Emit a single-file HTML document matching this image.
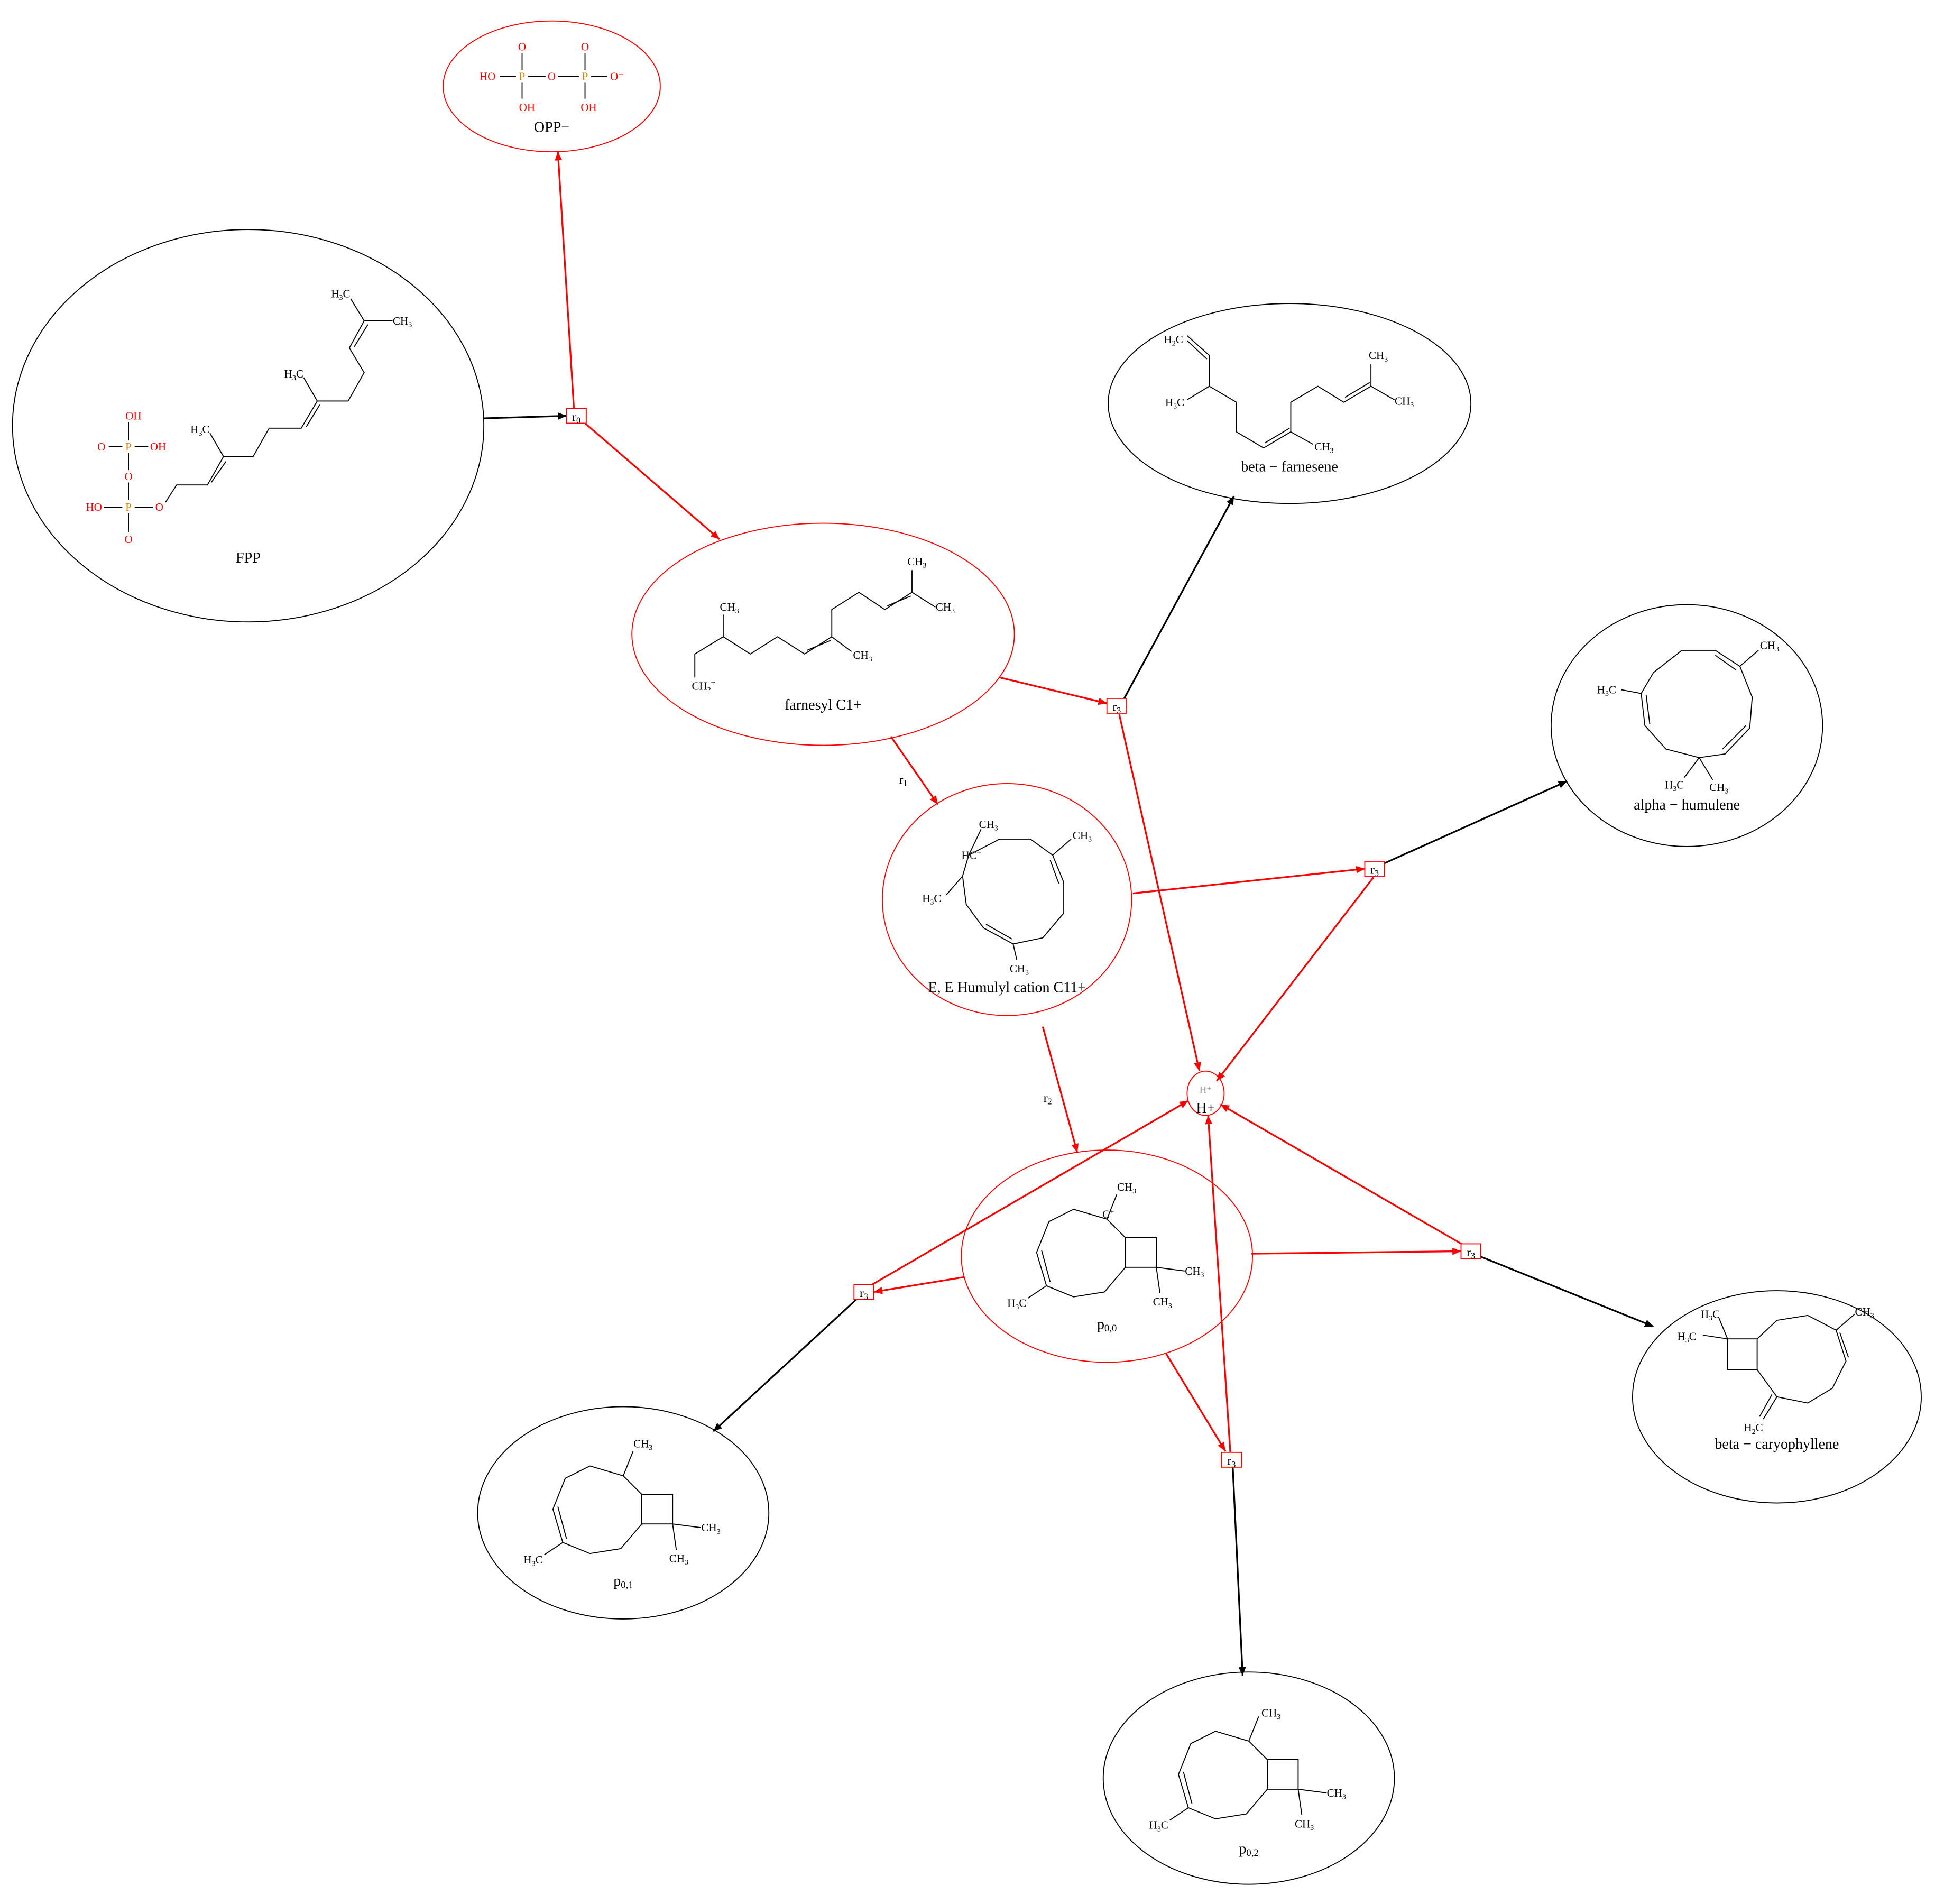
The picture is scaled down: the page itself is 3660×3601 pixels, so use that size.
<!DOCTYPE html>
<html><head><meta charset="utf-8"><style>html,body{margin:0;padding:0;background:#fff}svg{display:block}</style></head>
<body>
<svg xmlns="http://www.w3.org/2000/svg" width="3660" height="3601" viewBox="0 0 1568 1543" font-family="Liberation Serif, serif">
<defs>
<marker id="ab" markerWidth="8" markerHeight="8" refX="7" refY="4" orient="auto" markerUnits="userSpaceOnUse"><path d="M0,1 L7,4 L0,7 Z" fill="#000"/></marker>
<marker id="ar" markerWidth="8" markerHeight="8" refX="7" refY="4" orient="auto" markerUnits="userSpaceOnUse"><path d="M0,1 L7,4 L0,7 Z" fill="#f00"/></marker>
<g id="bic" fill="none" stroke="#000" stroke-width="0.8">
<path d="M912,1003 L937,1003 L937,1027 L912,1027 Z"/>
<path d="M912,1003 L897,988 L870,980 L850,990 L840,1015 L848,1042 L870,1051 L895,1047 L912,1027"/>
<path d="M844,1013 L851,1039"/>
<path d="M897,988 L905,968 M937,1027 L960,1030 M937,1027 L940,1048 M848,1042 L833,1052"/>
</g>
</defs>
<g fill="none" stroke-width="0.8">
<ellipse cx="447" cy="70" rx="88" ry="53" stroke="#f00"/>
<ellipse cx="201" cy="345" rx="191" ry="159" stroke="#000"/>
<ellipse cx="1045" cy="327" rx="147" ry="81" stroke="#000"/>
<ellipse cx="667" cy="514" rx="155" ry="90" stroke="#f00"/>
<ellipse cx="1367" cy="588" rx="110" ry="98" stroke="#000"/>
<ellipse cx="816" cy="729" rx="101" ry="94" stroke="#f00"/>
<ellipse cx="977" cy="886" rx="15" ry="18" stroke="#f00"/>
<ellipse cx="897" cy="1018" rx="118" ry="86" stroke="#f00"/>
<ellipse cx="1440" cy="1132" rx="117" ry="86" stroke="#000"/>
<ellipse cx="505" cy="1226" rx="118" ry="86" stroke="#000"/>
<ellipse cx="1012" cy="1441" rx="118" ry="86" stroke="#000"/>
</g>
<g stroke-width="1.4" fill="none">
<path d="M392,339 L459,337" stroke="#000" marker-end="url(#ab)"/>
<path d="M465,331 L452,123" stroke="#f00" marker-end="url(#ar)"/>
<path d="M474,343 L583,437" stroke="#f00" marker-end="url(#ar)"/>
<path d="M810,549 L897,570" stroke="#f00" marker-end="url(#ar)"/>
<path d="M911,566 L1000,402" stroke="#000" marker-end="url(#ab)"/>
<path d="M907,579 L972,868" stroke="#f00" marker-end="url(#ar)"/>
<path d="M722,597 L760,652" stroke="#f00" marker-end="url(#ar)"/>
<path d="M918,724 L1106,704" stroke="#f00" marker-end="url(#ar)"/>
<path d="M1121,700 L1270,633" stroke="#000" marker-end="url(#ab)"/>
<path d="M1113,711 L986,876" stroke="#f00" marker-end="url(#ar)"/>
<path d="M845,832 L873,934" stroke="#f00" marker-end="url(#ar)"/>
<path d="M1014,1016 L1184,1014" stroke="#f00" marker-end="url(#ar)"/>
<path d="M1199,1018 L1340,1075" stroke="#000" marker-end="url(#ab)"/>
<path d="M1186,1009 L989,895" stroke="#f00" marker-end="url(#ar)"/>
<path d="M781,1035 L708,1047" stroke="#f00" marker-end="url(#ar)"/>
<path d="M705,1042 L963,892" stroke="#f00" marker-end="url(#ar)"/>
<path d="M694,1053 L578,1160" stroke="#000" marker-end="url(#ab)"/>
<path d="M945,1097 L993,1176" stroke="#f00" marker-end="url(#ar)"/>
<path d="M997,1177 L979,904" stroke="#f00" marker-end="url(#ar)"/>
<path d="M999,1189 L1007,1358" stroke="#000" marker-end="url(#ab)"/>
</g>
<g fill="#fff" stroke="#f00" stroke-width="0.8">
<rect x="459" y="331" width="16" height="12"/>
<rect x="897" y="566" width="16" height="12"/>
<rect x="1106" y="698" width="16" height="12"/>
<rect x="1184" y="1008" width="16" height="12"/>
<rect x="692" y="1041" width="16" height="12"/>
<rect x="990" y="1177" width="16" height="12"/>
</g>
<g font-size="10" text-anchor="middle">
<text x="467" y="341">r<tspan font-size="7" dy="2">0</tspan></text>
<text x="905" y="576">r<tspan font-size="7" dy="2">3</tspan></text>
<text x="1114" y="708">r<tspan font-size="7" dy="2">3</tspan></text>
<text x="1192" y="1018">r<tspan font-size="7" dy="2">3</tspan></text>
<text x="700" y="1051">r<tspan font-size="7" dy="2">3</tspan></text>
<text x="998" y="1187">r<tspan font-size="7" dy="2">3</tspan></text>
<text x="732" y="635">r<tspan font-size="7" dy="2">1</tspan></text>
<text x="849" y="893">r<tspan font-size="7" dy="2">2</tspan></text>
</g>
<g font-size="12" text-anchor="middle">
<text x="447" y="107">OPP−</text>
<text x="201" y="456">FPP</text>
<text x="667" y="575">farnesyl C1+</text>
<text x="1045" y="382">beta − farnesene</text>
<text x="1367" y="656">alpha − humulene</text>
<text x="816" y="804">E, E Humulyl cation C11+</text>
<text x="977" y="902">H+</text>
<text x="977" y="886" font-size="8" fill="#888">H⁺</text>
<text x="897" y="1077">p<tspan font-size="8" dy="2">0,0</tspan></text>
<text x="1440" y="1174">beta − caryophyllene</text>
<text x="505" y="1285">p<tspan font-size="8" dy="2">0,1</tspan></text>
<text x="1012" y="1502">p<tspan font-size="8" dy="2">0,2</tspan></text>
</g>
<!-- OPP -->
<g stroke-width="0.8" fill="none" stroke="#000">
<path d="M405,62 L418,62 M428,62 L442,62 M452,62 L469,62 M479,62 L492,62 M423,57 L423,43 M474,57 L474,43 M423,67 L423,80 M474,67 L474,80"/>
</g>
<g font-size="9" text-anchor="middle" fill="#f00">
<text x="395" y="65">HO</text><text x="423" y="65" fill="#e08000">P</text><text x="447" y="65">O</text><text x="474" y="65" fill="#e08000">P</text><text x="500" y="65">O⁻</text>
<text x="423" y="41">O</text><text x="474" y="41">O</text><text x="427" y="90">OH</text><text x="477" y="90">OH</text>
</g>
<!-- FPP -->
<g stroke-width="0.8" fill="none" stroke="#000">
<path d="M104,342 L104,357 M88,362 L99,362 M109,362 L120,362 M104,367 L104,381 M104,391 L104,405 M84,411 L99,411 M104,416 L104,431 M109,411 L124,411"/>
<path d="M134,407 L143,393 L168,393 L181,370 L205,370 L218,347 L244,347 L257,325 L282,325 L295,302 L283,282 L295,260 L318,260 M181,370 L170,351 M257,325 L246,306 M295,260 L284,242"/>
<path d="M171,391 L183,374 M248,346 L259,328 M287,281 L298,263"/>
</g>
<g font-size="9" text-anchor="middle" fill="#f00">
<text x="108" y="340">OH</text><text x="82" y="365">O</text><text x="104" y="365" fill="#e08000">P</text><text x="128" y="365">OH</text>
<text x="104" y="389">O</text><text x="76" y="414">HO</text><text x="104" y="414" fill="#e08000">P</text><text x="104" y="440">O</text><text x="129" y="414">O</text>
</g>
<g font-size="9" text-anchor="middle">
<text x="162" y="351">H<tspan font-size="6" dy="2">3</tspan><tspan dy="-2">C</tspan></text>
<text x="238" y="306">H<tspan font-size="6" dy="2">3</tspan><tspan dy="-2">C</tspan></text>
<text x="276" y="241">H<tspan font-size="6" dy="2">3</tspan><tspan dy="-2">C</tspan></text>
<text x="326" y="263">CH<tspan font-size="6" dy="2">3</tspan></text>
</g>
<!-- farnesyl -->
<g stroke-width="0.8" fill="none" stroke="#000">
<path d="M563,549 L563,530 L586,516 L586,498 M586,516 L608,530 L630,516 L652,530 L674,516 L674,494 L696,480 L717,494 L739,480 L739,462 M739,480 L758,492 M674,516 L690,528"/>
<path d="M654,527 L673,519 M719,491 L738,483"/>
</g>
<g font-size="9" text-anchor="middle">
<text x="570" y="559">CH<tspan font-size="6" dy="2">2</tspan><tspan font-size="6" dy="-6">+</tspan></text>
<text x="591" y="495">CH<tspan font-size="6" dy="2">3</tspan></text>
<text x="743" y="458">CH<tspan font-size="6" dy="2">3</tspan></text>
<text x="766" y="495">CH<tspan font-size="6" dy="2">3</tspan></text>
<text x="699" y="534">CH<tspan font-size="6" dy="2">3</tspan></text>
</g>
<!-- beta-farnesene -->
<g stroke-width="0.8" fill="none" stroke="#000">
<path d="M962,272 L980,288 L980,313 L962,324 M980,313 L1002,326 L1002,350 L1024,363 L1046,350 L1064,360 M1046,350 L1046,326 L1068,313 L1089,326 L1111,313 L1111,295 M1111,313 L1130,324"/>
<path d="M962,276 L978,291 M1025,359 L1045,347 M1090,322 L1110,310"/>
</g>
<g font-size="9" text-anchor="middle">
<text x="951" y="278">H<tspan font-size="6" dy="2">2</tspan><tspan dy="-2">C</tspan></text>
<text x="952" y="329">H<tspan font-size="6" dy="2">3</tspan><tspan dy="-2">C</tspan></text>
<text x="1073" y="365">CH<tspan font-size="6" dy="2">3</tspan></text>
<text x="1117" y="291">CH<tspan font-size="6" dy="2">3</tspan></text>
<text x="1138" y="328">CH<tspan font-size="6" dy="2">3</tspan></text>
</g>
<!-- alpha-humulene -->
<g stroke-width="0.8" fill="none" stroke="#000">
<path d="M1340,545 L1363,527 L1390,527 L1410,540 L1420,565 L1418,590 L1398,611 L1377,614 L1350,607 L1333,588 L1330,562 Z"/>
<path d="M1390,531 L1407,543 M1415,588 L1396,607 M1334,563 L1337,587"/>
<path d="M1410,540 L1425,527 M1330,562 L1314,559 M1377,614 L1365,630 M1377,614 L1388,632"/>
</g>
<g font-size="9" text-anchor="middle">
<text x="1434" y="526">CH<tspan font-size="6" dy="2">3</tspan></text>
<text x="1302" y="562">H<tspan font-size="6" dy="2">3</tspan><tspan dy="-2">C</tspan></text>
<text x="1357" y="639">H<tspan font-size="6" dy="2">3</tspan><tspan dy="-2">C</tspan></text>
<text x="1393" y="641">CH<tspan font-size="6" dy="2">3</tspan></text>
</g>
<!-- humulyl cation -->
<g stroke-width="0.8" fill="none" stroke="#000">
<path d="M785,693 L810,680 L835,680 L853,693 L862,715 L862,740 L845,760 L821,765 L797,752 L783,733 L780,710 Z"/>
<path d="M851,697 L858,716 M820,761 L799,749"/>
<path d="M785,693 L795,672 M853,693 L868,680 M780,710 L767,725 M821,765 L824,778"/>
</g>
<g font-size="9" text-anchor="middle">
<text x="801" y="671">CH<tspan font-size="6" dy="2">3</tspan></text>
<text x="787" y="696" fill="#222">HC<tspan font-size="6" dy="-3">+</tspan></text>
<text x="877" y="680">CH<tspan font-size="6" dy="2">3</tspan></text>
<text x="755" y="731">H<tspan font-size="6" dy="2">3</tspan><tspan dy="-2">C</tspan></text>
<text x="826" y="788">CH<tspan font-size="6" dy="2">3</tspan></text>
</g>
<!-- bicyclic -->
<use href="#bic"/>
<use href="#bic" transform="translate(-392,208)"/>
<use href="#bic" transform="translate(115,423)"/>
<g font-size="9" text-anchor="middle">
<text x="898" y="987">C<tspan font-size="6" dy="-3">+</tspan></text>
<text x="913" y="965">CH<tspan font-size="6" dy="2">3</tspan></text>
<text x="968" y="1033">CH<tspan font-size="6" dy="2">3</tspan></text>
<text x="942" y="1058">CH<tspan font-size="6" dy="2">3</tspan></text>
<text x="824" y="1059">H<tspan font-size="6" dy="2">3</tspan><tspan dy="-2">C</tspan></text>
<text x="521" y="1173">CH<tspan font-size="6" dy="2">3</tspan></text>
<text x="576" y="1241">CH<tspan font-size="6" dy="2">3</tspan></text>
<text x="550" y="1266">CH<tspan font-size="6" dy="2">3</tspan></text>
<text x="432" y="1267">H<tspan font-size="6" dy="2">3</tspan><tspan dy="-2">C</tspan></text>
<text x="1030" y="1391">CH<tspan font-size="6" dy="2">3</tspan></text>
<text x="1083" y="1456">CH<tspan font-size="6" dy="2">3</tspan></text>
<text x="1057" y="1481">CH<tspan font-size="6" dy="2">3</tspan></text>
<text x="939" y="1482">H<tspan font-size="6" dy="2">3</tspan><tspan dy="-2">C</tspan></text>
</g>
<!-- beta-caryophyllene -->
<g stroke-width="0.8" fill="none" stroke="#000">
<path d="M1400,1085 L1424,1085 L1424,1110 L1400,1110 Z"/>
<path d="M1424,1085 L1440,1070 L1465,1066 L1488,1078 L1496,1103 L1485,1125 L1465,1137 L1440,1132 L1424,1110"/>
<path d="M1491,1080 L1498,1100 M1400,1085 L1393,1068 M1400,1085 L1380,1082 M1488,1078 L1503,1065 M1440,1132 L1429,1150 M1436,1130 L1426,1148"/>
</g>
<g font-size="9" text-anchor="middle">
<text x="1386" y="1068">H<tspan font-size="6" dy="2">3</tspan><tspan dy="-2">C</tspan></text>
<text x="1367" y="1086">H<tspan font-size="6" dy="2">3</tspan><tspan dy="-2">C</tspan></text>
<text x="1511" y="1066">CH<tspan font-size="6" dy="2">3</tspan></text>
<text x="1421" y="1160">H<tspan font-size="6" dy="2">2</tspan><tspan dy="-2">C</tspan></text>
</g>
</svg>
</body></html>
